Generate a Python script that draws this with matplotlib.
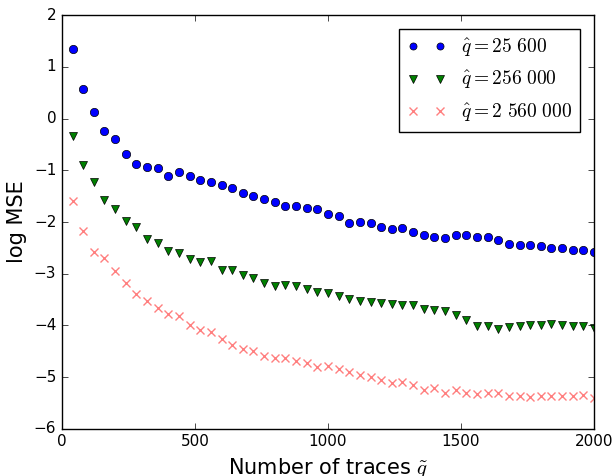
import numpy as np
import matplotlib
matplotlib.use("Agg")
import matplotlib.pyplot as plt

plt.style.use("classic")
plt.rcParams["mathtext.fontset"] = "cm"
plt.rcParams["figure.facecolor"] = "white"
plt.rcParams["savefig.facecolor"] = "white"

traces = list(range(40, 2001, 40))

mse_25600 = [1.34, 0.58, 0.13, -0.23, -0.40, -0.69, -0.87, -0.93, -0.95, -1.10,
             -1.03, -1.10, -1.18, -1.23, -1.28, -1.34, -1.44, -1.50, -1.56, -1.61,
             -1.68, -1.68, -1.73, -1.75, -1.85, -1.88, -2.01, -2.00, -2.02, -2.10,
             -2.13, -2.12, -2.19, -2.26, -2.28, -2.31, -2.26, -2.26, -2.28, -2.29,
             -2.34, -2.43, -2.44, -2.44, -2.47, -2.50, -2.50, -2.54, -2.54, -2.57]

mse_256000 = [-0.33, -0.90, -1.22, -1.58, -1.75, -1.98, -2.10, -2.32, -2.41, -2.56,
              -2.59, -2.72, -2.77, -2.75, -2.93, -2.93, -3.03, -3.08, -3.17, -3.24,
              -3.22, -3.24, -3.29, -3.36, -3.38, -3.43, -3.49, -3.53, -3.54, -3.56,
              -3.59, -3.61, -3.60, -3.69, -3.71, -3.72, -3.80, -3.90, -4.02, -4.02,
              -4.07, -4.03, -4.02, -4.00, -4.00, -3.98, -4.00, -4.02, -4.02, -4.04]

mse_2560000 = [-1.59, -2.17, -2.57, -2.70, -2.94, -3.17, -3.40, -3.53, -3.66, -3.78,
               -3.81, -3.99, -4.09, -4.12, -4.27, -4.38, -4.46, -4.49, -4.60, -4.62,
               -4.62, -4.68, -4.72, -4.80, -4.78, -4.85, -4.90, -4.96, -5.00, -5.05,
               -5.12, -5.10, -5.16, -5.24, -5.21, -5.30, -5.25, -5.30, -5.32, -5.31,
               -5.31, -5.36, -5.36, -5.38, -5.36, -5.36, -5.37, -5.36, -5.34, -5.40]

labels = [r"$\hat{q}=25\ 600$", r"$\hat{q}=256\ 000$", r"$\hat{q}=2\ 560\ 000$"]

fig = plt.figure(figsize=(6.13, 4.76), dpi=100)
ax = fig.add_axes([0.101, 0.099, 0.868, 0.869])

ax.plot(traces, mse_25600, "o", color="blue", markersize=6, label=labels[0])
ax.plot(traces, mse_256000, "v", color="green", markersize=6, label=labels[1])
ax.plot(traces, mse_2560000, "x", color="red", alpha=0.5, markersize=6,
        markeredgewidth=1, label=labels[2])

ax.set_xlim(0, 2000)
ax.set_ylim(-6, 2)
ax.set_xticks([0, 500, 1000, 1500, 2000])
ax.set_yticks(range(-6, 3))
ax.tick_params(labelsize=11)
ax.set_xlabel(r"Number of traces $\tilde{q}$", fontsize=15)
ax.set_ylabel("log MSE", fontsize=15)

ax.legend(loc="upper right", numpoints=2, fontsize=14, fancybox=False,
          borderaxespad=0.7, markerscale=0.85)

fig.savefig("out.png", dpi=100)
